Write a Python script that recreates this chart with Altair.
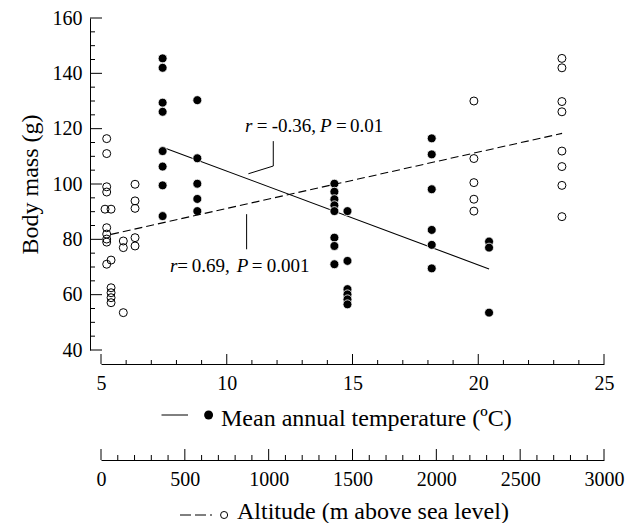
import altair as alt
import pandas as pd

FONT = "Liberation Serif"
W, H = 503, 332

# ---- data: filled circles (mean annual temperature, degC) ----
temp_c = [7.45, 7.45, 7.45, 7.45, 7.45, 7.45, 7.45, 7.45,
          8.83, 8.83, 8.83, 8.83, 8.83,
          14.28, 14.28, 14.28, 14.28, 14.28, 14.28, 14.28, 14.28,
          14.8, 14.8, 14.8, 14.8, 14.8, 14.8,
          18.15, 18.15, 18.15, 18.15, 18.15, 18.15,
          20.43, 20.43, 20.43]
temp_mass = [145.4, 142.0, 129.4, 126.1, 111.9, 106.3, 99.5, 88.4,
             130.3, 109.3, 100.1, 94.6, 90.2,
             100.1, 97.2, 94.5, 92.3, 90.2, 80.6, 77.6, 71.0,
             90.2, 72.2, 62.0, 60.1, 58.3, 56.5,
             116.5, 110.7, 98.1, 83.4, 78.0, 69.5,
             79.2, 77.0, 53.5]

# ---- data: open circles (altitude, m a.s.l.) ----
alt_m = [34, 34, 34, 34, 34, 34, 34, 34, 34, 24,
         60, 60, 60, 60, 60, 60,
         133, 133, 133,
         203, 203, 203, 203, 203,
         2224, 2224, 2224, 2224, 2224,
         2749, 2749, 2749, 2749, 2749, 2749, 2749, 2749]
alt_mass = [116.4, 111.0, 99.0, 97.1, 84.2, 81.9, 80.1, 79.0, 71.0, 90.9,
            90.9, 72.5, 62.5, 60.7, 58.9, 57.1,
            79.4, 77.0, 53.5,
            99.9, 93.9, 91.2, 80.6, 77.6,
            130.0, 109.2, 100.5, 94.5, 90.2,
            145.4, 142.0, 129.8, 126.1, 111.9, 106.3, 99.5, 88.2]

# regression lines (end points)
temp_fit_x = [7.45, 20.43]
temp_fit_y = [113.3, 69.3]
alt_fit_x = [60, 2750]
alt_fit_y = [81.8, 118.3]

# axis ticks
y_major = [40, 60, 80, 100, 120, 140, 160]
y_minor = [v for v in range(40, 161, 5) if v % 20 != 0]
t_major = [5, 10, 15, 20, 25]
t_minor = [v for v in range(5, 26) if v % 5 != 0]
a_major = [0, 500, 1000, 1500, 2000, 2500, 3000]
a_minor = [v for v in range(0, 3001, 100) if v % 500 != 0]

# annotation tokens (placed in data units: temperature, body mass)
ann_txt = ["r", "=", "-0.36,", "P", "=", "0.01",
           "r", "=", "0.69,", "P", "=", "0.001"]
ann_temp = [10.726, 11.191, 11.787, 13.708, 14.344, 14.901,
            7.744, 8.034, 8.606, 10.396, 10.992, 11.588]
ann_mass = [121.0] * 6 + [70.4] * 6
ann_style = ["italic", "normal", "normal", "italic", "normal", "normal",
             "italic", "normal", "normal", "italic", "normal", "normal"]
leader_id = ["a", "a", "a", "b", "b"]
leader_k = [0, 1, 2, 0, 1]
leader_t = [11.85, 11.85, 10.86, 10.79, 10.79]
leader_m = [115.5, 106.5, 103.7, 89.1, 76.4]

# ---------------------------------------------------------------
tscale = alt.Scale(domain=[5, 25], nice=False, zero=False)
ascale = alt.Scale(domain=[0, 3000], nice=False, zero=False)
yscale = alt.Scale(domain=[40, 160], nice=False, zero=False)

temp_df = pd.DataFrame({"temp": temp_c, "mass": temp_mass})
alt_df = pd.DataFrame({"alt": alt_m, "mass": alt_mass})
one = pd.DataFrame({"a": [0]})

common = dict(ticks=False, tickSize=0, domain=True, domainColor="black", domainWidth=1, grid=False,
              labelFont=FONT, labelFontSize=20, labelColor="black",
              labelFlush=False, labelOverlap=False, format="d")
temp_axis = alt.Axis(orient="bottom", offset=14, values=t_major, labelPadding=9, title=None, **common)
alt_axis = alt.Axis(orient="bottom", offset=110, values=a_major, labelPadding=9, title=None, **common)
y_axis = alt.Axis(orient="left", offset=11, values=y_major, labelPadding=8,
                  title="Body mass (g)", titleFont=FONT, titleFontSize=24,
                  titleFontWeight="normal", titleColor="black", titlePadding=10, **common)


def TX(f):
    return alt.X(f, scale=tscale, axis=temp_axis, title=None)


def AX(f):
    return alt.X(f, scale=ascale, axis=alt_axis, title=None)


def MY(f):
    return alt.Y(f, scale=yscale, axis=y_axis, title="Body mass (g)")


# ---------- temperature group ----------
t_line = alt.Chart(pd.DataFrame({"temp": temp_fit_x, "mass": temp_fit_y})).mark_line(
    color="black", strokeWidth=1.1).encode(x=TX("temp:Q"), y=MY("mass:Q"))

t_points = alt.Chart(temp_df).mark_circle(size=80, fill="black", opacity=1, stroke="white",
                                          strokeWidth=0.8).encode(x=TX("temp:Q"), y=MY("mass:Q"))

yt_major = alt.Chart(pd.DataFrame({"mass": y_major})).mark_rule(color="black", strokeWidth=1).encode(
    y=MY("mass:Q"), x=alt.value(-11), x2=alt.value(1))
yt_minor = alt.Chart(pd.DataFrame({"mass": y_minor})).mark_rule(color="black", strokeWidth=1).encode(
    y=MY("mass:Q"), x=alt.value(-11), x2=alt.value(-6))
tt_major = alt.Chart(pd.DataFrame({"temp": t_major})).mark_rule(color="black", strokeWidth=1).encode(
    x=TX("temp:Q"), y=alt.value(H + 14), y2=alt.value(H + 14 - 10))
tt_minor = alt.Chart(pd.DataFrame({"temp": t_minor})).mark_rule(color="black", strokeWidth=1).encode(
    x=TX("temp:Q"), y=alt.value(H + 14), y2=alt.value(H + 14 - 4))

leaders = alt.Chart(pd.DataFrame({"id": leader_id, "k": leader_k, "temp": leader_t, "mass": leader_m})
                    ).mark_line(color="black", strokeWidth=1).encode(
    x=TX("temp:Q"), y=MY("mass:Q"), detail="id:N", order="k:O")

ann_df = pd.DataFrame({"temp": ann_temp, "mass": ann_mass, "txt": ann_txt, "style": ann_style})
ann_it = alt.Chart(ann_df).transform_filter(alt.datum.style == "italic").mark_text(
    align="left", baseline="middle", font=FONT, fontSize=19, fontStyle="italic", color="black").encode(
    x=TX("temp:Q"), y=MY("mass:Q"), text="txt:N")
ann_no = alt.Chart(ann_df).transform_filter(alt.datum.style == "normal").mark_text(
    align="left", baseline="middle", font=FONT, fontSize=19, color="black").encode(
    x=TX("temp:Q"), y=MY("mass:Q"), text="txt:N")

leg_t_line = alt.Chart(one).mark_rule(color="black", strokeWidth=1).encode(
    x=alt.value(60.5), x2=alt.value(87), y=alt.value(397))
leg_t_pt = alt.Chart(one).mark_circle(size=80, fill="black", opacity=1).encode(
    x=alt.value(107.6), y=alt.value(397))
leg_t_txt = alt.Chart(one).mark_text(text="Mean annual temperature (ºC)", align="left", baseline="middle",
                                     font=FONT, fontSize=24, color="black").encode(
    x=alt.value(120), y=alt.value(401))

temp_group = alt.layer(t_line, t_points, yt_major, yt_minor, tt_major, tt_minor, leaders,
                       ann_it, ann_no, leg_t_line, leg_t_pt, leg_t_txt)

# ---------- altitude group ----------
a_line = alt.Chart(pd.DataFrame({"alt": alt_fit_x, "mass": alt_fit_y})).mark_line(
    color="black", strokeWidth=1.1, strokeDash=[8, 4]).encode(x=AX("alt:Q"), y=MY("mass:Q"))
a_points = alt.Chart(alt_df).mark_point(shape="circle", size=64, filled=False, color="black",
                                        strokeWidth=1, opacity=1).encode(x=AX("alt:Q"), y=MY("mass:Q"))
at_major = alt.Chart(pd.DataFrame({"alt": a_major})).mark_rule(color="black", strokeWidth=1).encode(
    x=AX("alt:Q"), y=alt.value(H + 110), y2=alt.value(H + 110 - 11))
at_minor = alt.Chart(pd.DataFrame({"alt": a_minor})).mark_rule(color="black", strokeWidth=1).encode(
    x=AX("alt:Q"), y=alt.value(H + 110), y2=alt.value(H + 110 - 5))
leg_a_line = alt.Chart(one).mark_rule(color="black", strokeWidth=1, strokeDash=[11, 4, 11, 4, 2, 4]).encode(
    x=alt.value(79), x2=alt.value(111.7), y=alt.value(497))
leg_a_pt = alt.Chart(one).mark_point(shape="circle", size=50, filled=False, color="black",
                                     strokeWidth=1, opacity=1).encode(
    x=alt.value(123.1), y=alt.value(497))
leg_a_txt = alt.Chart(one).mark_text(text="Altitude (m above sea level)", align="left", baseline="middle",
                                     font=FONT, fontSize=24, color="black").encode(
    x=alt.value(136), y=alt.value(494))

alt_group = alt.layer(a_line, a_points, at_major, at_minor, leg_a_line, leg_a_pt, leg_a_txt)

chart = alt.layer(temp_group, alt_group).resolve_scale(x="independent").properties(
    width=W, height=H,
    autosize=alt.AutoSizeParams(type="none"),
    padding={"left": 93, "top": 10, "right": 24, "bottom": 173},
    background="white",
).configure_view(stroke=None)

chart.save("out.html", embed_options={"renderer": "svg", "actions": False})
